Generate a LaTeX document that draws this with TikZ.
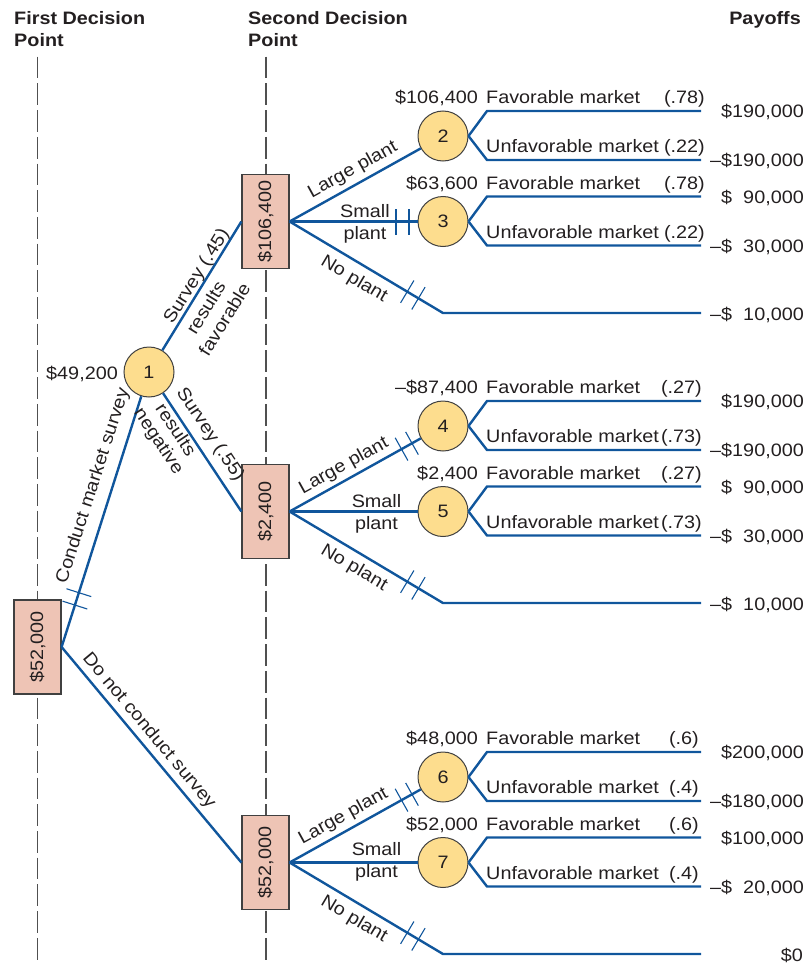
\documentclass[tikz,border=0pt]{standalone}
\usepackage{fontspec}
\setmainfont{Liberation Sans}[FakeStretch=1.1]
\usetikzlibrary{decorations.markings}
\definecolor{lineblue}{RGB}{16,86,156}
\definecolor{circfill}{RGB}{253,221,142}
\definecolor{boxfill}{RGB}{238,196,181}
\definecolor{edgegray}{RGB}{64,64,64}
\definecolor{txtcol}{RGB}{35,31,32}
\definecolor{dashgray}{RGB}{80,80,80}
\tikzset{
  decbox/.style={draw=edgegray, fill=boxfill, line width=1.2pt, minimum width=47pt, minimum height=94pt, inner sep=0pt, text=txtcol},
  chance/.style={circle, draw=edgegray, fill=circfill, line width=1pt, minimum size=50pt, inner sep=0pt, text=txtcol},
  branch/.style={draw=lineblue, line width=2.4pt},
  tickat/.style={postaction={decorate, decoration={markings, mark=at position #1 with {\draw[lineblue, line width=1.1pt] (0pt,-13pt) -- (0pt,13pt);}}}},
  lbl/.style={inner sep=0pt, text=txtcol},
  hdr/.style={inner sep=0pt, text=txtcol, font=\fontsize{18}{22}\selectfont\bfseries},
  stage/.style={draw=dashgray, line width=1.3pt, dash pattern=on 21.7pt off 5pt},
}
\newcommand{\cgroup}[8]{%
  \node[chance] (n#1) at (443,#2) {#1};
  \coordinate (n#1f) at (701,#2-25);
  \coordinate (n#1u) at (701,#2+24);
  \draw[branch] (n#1.east) -- (487,#2-25) -- (n#1f);
  \draw[branch] (n#1.east) -- (487,#2+24) -- (n#1u);
  \node[lbl, anchor=base east] (n#1v) at (478,#2-32.5) {#3};
  \node[lbl, anchor=base west] (n#1fl) at (486,#2-32.5) {Favorable market};
  \node[lbl, anchor=base east] (n#1fp) at (#8,#2-32.5) {#4};
  \node[lbl, anchor=base west] (n#1ul) at (486,#2+16.5) {Unfavorable market};
  \node[lbl, anchor=base east] (n#1up) at (#8,#2+16.5) {#5};
  \node[lbl, anchor=base east] (n#1fy) at (804,#2-18.5) {#6};
  \node[lbl, anchor=base east] (n#1uy) at (804,#2+30.5) {#7};
}
\begin{document}
\begin{tikzpicture}[x=1pt, y=-1pt, font=\fontsize{18}{22}\selectfont]
\useasboundingbox (0,0) rectangle (809,963);
% headers
\node[hdr, anchor=base west] (h1a) at (14,25) {First Decision};
\node[hdr, anchor=base west] (h1b) at (14,47) {Point};
\node[hdr, anchor=base west] (h2a) at (248,25) {Second Decision};
\node[hdr, anchor=base west] (h2b) at (248,47) {Point};
\node[hdr, anchor=base east] (h3) at (801,25) {Payoffs};
% stage lines
\coordinate (s1t) at (37.3,56.7); \coordinate (s1b) at (37.3,960);
\coordinate (s2t) at (266,56.7); \coordinate (s2b) at (266,960);
\draw[stage] (s1t) -- (s1b);
\draw[stage] (s2t) -- (s2b);
% decision boxes
\node[decbox] (A) at (37.5,647) {\rotatebox{90}{\$52,000}};
\node[decbox] (B) at (265.5,221.5) {\rotatebox{90}{\$106,400}};
\node[decbox] (C) at (265.5,511.5) {\rotatebox{90}{\$2,400}};
\node[decbox] (D) at (265.5,862.5) {\rotatebox{90}{\$52,000}};
% node 1
\node[chance] (n1) at (149,372) {1};
\node[lbl, anchor=base east] (v1) at (118,379) {\$49,200};
% chance groups
\cgroup{2}{136}{\$106,400}{(.78)}{(.22)}{\$190,000}{–\$190,000}{705}
\cgroup{3}{221.5}{\$63,600}{(.78)}{(.22)}{\$\hphantom{1}90,000}{–\$\hphantom{1}30,000}{705}
\cgroup{4}{426}{–\$87,400}{(.27)}{(.73)}{\$190,000}{–\$190,000}{702}
\cgroup{5}{511.5}{\$2,400\hspace{5pt}}{(.27)}{(.73)}{\$\hphantom{1}90,000}{–\$\hphantom{1}30,000}{702}
\cgroup{6}{777}{\$48,000}{(.6)}{(.4)}{\$200,000}{–\$180,000}{699}
\cgroup{7}{862.5}{\$52,000}{(.6)}{(.4)}{\$100,000}{–\$\hphantom{1}20,000}{699}
% first stage connectors
\draw[branch, tickat=44pt, tickat=57pt] (A.east) -- (n1);
\draw[branch] (A.east) -- (D.west);
\draw[branch] (n1) -- (B.west);
\draw[branch] (n1) -- (C.west);
% box B branches
\coordinate (bk) at (443,313); \coordinate (be) at (701,313);
\draw[branch] (B.east) -- (n2);
\draw[branch, tickat=-21.5pt, tickat=-8.5pt] (B.east) -- (n3);
\draw[branch, tickat=137pt, tickat=150pt] (B.east) -- (bk) -- (be);
% box C branches
\coordinate (ck) at (443,603); \coordinate (ce) at (701,603);
\draw[branch, tickat=-22pt, tickat=-10pt] (C.east) -- (n4);
\draw[branch] (C.east) -- (n5);
\draw[branch, tickat=137pt, tickat=150pt] (C.east) -- (ck) -- (ce);
% box D branches
\coordinate (dk) at (443,954); \coordinate (de) at (701,954);
\draw[branch, tickat=-22pt, tickat=-10pt] (D.east) -- (n6);
\draw[branch] (D.east) -- (n7);
\draw[branch, tickat=137pt, tickat=150pt] (D.east) -- (dk) -- (de);
\node[lbl, anchor=base east] (p0) at (803,961) {\$0};
\node[lbl, anchor=base east] (p1) at (804,320) {–\$\hphantom{1}10,000};
\node[lbl, anchor=base east] (p2) at (804,610) {–\$\hphantom{1}10,000};
% branch labels
\node[lbl, rotate=72.1] (lcs) at (93.3,485.8) {Conduct market survey};
\node[lbl, rotate=-50.1] (ldn) at (149,731) {Do not conduct survey};
\node[lbl, rotate=58.3] (ls45) at (197,276.5) {Survey (.45)};
\node[lbl, rotate=58.3, align=center] (lrf) at (215,313.5) {results\\favorable};
\node[lbl, rotate=-56.3] (ls55) at (210,434.5) {Survey (.55)};
\node[lbl, rotate=-56.3, align=center] (lrn) at (166.5,436) {results\\[-2pt]negative};
% B labels
\node[lbl, rotate=29] (lbl1) at (353,170) {Large plant};
\node[lbl, anchor=base] (lbs1) at (365,217.3) {Small};
\node[lbl, anchor=base] (lbs2) at (365,239.3) {plant};
\node[lbl, rotate=-30.7] (lbn) at (354,279.5) {No plant};
% C labels
\node[lbl, rotate=29] (lcl1) at (344,466) {Large plant};
\node[lbl, anchor=base] (lcs1) at (376.5,507.3) {Small};
\node[lbl, anchor=base] (lcs2) at (376.5,529.3) {plant};
\node[lbl, rotate=-30.7] (lcn) at (354,568) {No plant};
% D labels
\node[lbl, rotate=29] (ldl1) at (343.5,816.5) {Large plant};
\node[lbl, anchor=base] (lds1) at (376.5,855.5) {Small};
\node[lbl, anchor=base] (lds2) at (376.5,877.5) {plant};
\node[lbl, rotate=-30.7] (ldnp) at (354,919.5) {No plant};
\end{tikzpicture}
\end{document}
